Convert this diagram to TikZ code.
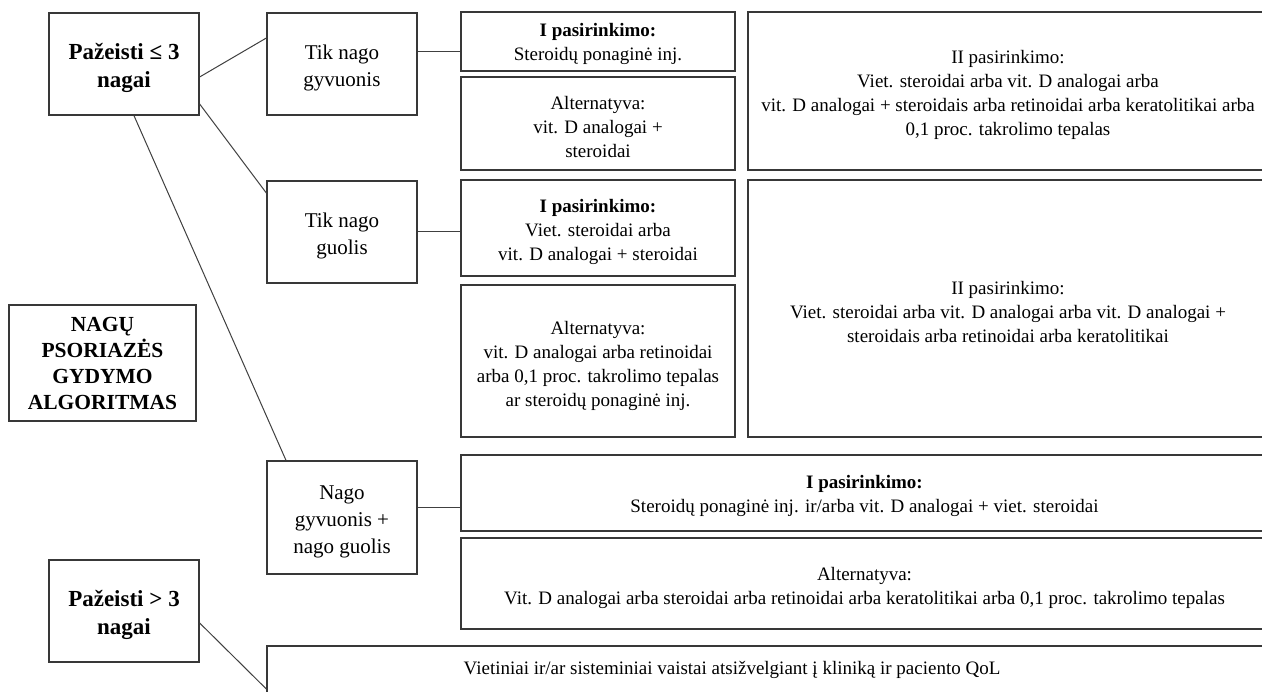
\documentclass[tikz,border=0pt]{standalone}
\usepackage{fontspec}
\setmainfont{Liberation Serif}
\begin{document}
\begin{tikzpicture}[x=1pt,y=-1pt,
  box/.style={draw=black!78, line width=1.3pt, fill=white, inner sep=0pt, anchor=center},
  txt/.style={inner sep=0pt, align=center, anchor=center},
  small/.style={txt, font=\fontsize{19}{24}\selectfont},
  lab/.style={txt, font=\fontsize{21}{27}\selectfont},
  big/.style={txt, font=\fontsize{23}{28}\selectfont\bfseries},
  ttl/.style={txt, font=\fontsize{21.5}{26}\selectfont\bfseries},
  conn/.style={draw=black!75, line width=1pt}]
\useasboundingbox (0,0) rectangle (1262,692);
\clip (0,0) rectangle (1262,692);
\fill[white] (0,0) rectangle (1262,692);
% left column
\node[box,minimum width=150pt,minimum height=102pt] (p1) at (124,64) {};
\node[big] (p1t) at ([yshift=-4pt]p1.center) {Pažeisti ≤ 3\\nagai};
\node[box,minimum width=187pt,minimum height=116pt] (title) at (102.5,363) {};
\node[ttl] (titlet) at (title.center) {NAGŲ\\PSORIAZĖS\\GYDYMO\\ALGORITMAS};
\node[box,minimum width=150pt,minimum height=102pt] (p2) at (124,611) {};
\node[big] (p2t) at ([yshift=-4pt]p2.center) {Pažeisti > 3\\nagai};
% second column
\node[box,minimum width=150pt,minimum height=102pt] (tng) at (342,64) {};
\node[lab] (tngt) at ([yshift=-4pt]tng.center) {Tik nago\\gyvuonis};
\node[box,minimum width=150pt,minimum height=102pt] (tng2) at (342,232) {};
\node[lab] (tng2t) at ([yshift=-4pt]tng2.center) {Tik nago\\guolis};
\node[box,minimum width=150pt,minimum height=113pt] (ng) at (342,517.5) {};
\node[lab] (ngt) at ([yshift=-4pt]ng.center) {Nago\\gyvuonis +\\nago guolis};
% options
\node[box,minimum width=274pt,minimum height=59pt] (i1) at (598,41.5) {};
\node[small] (i1t) at ([yshift=-2pt]i1.center) {\textbf{I pasirinkimo:}\\Steroidų ponaginė inj.};
\node[box,minimum width=274pt,minimum height=93pt] (a1) at (598,123.5) {};
\node[small] (a1t) at ([yshift=-4pt]a1.center) {Alternatyva:\\vit. D analogai +\\steroidai};
\node[box,minimum width=520pt,minimum height=158pt] (ii1) at (1008,91) {};
\node[small] (ii1t) at ([yshift=-4pt]ii1.center) {II pasirinkimo:\\Viet. steroidai arba vit. D analogai arba\\vit. D analogai + steroidais arba retinoidai arba keratolitikai arba\\0,1 proc. takrolimo tepalas};
\node[box,minimum width=274pt,minimum height=96pt] (i2) at (598,228) {};
\node[small] (i2t) at ([yshift=-4pt]i2.center) {\textbf{I pasirinkimo:}\\Viet. steroidai arba\\vit. D analogai + steroidai};
\node[box,minimum width=274pt,minimum height=152pt] (a2) at (598,361) {};
\node[small] (a2t) at ([yshift=-5pt]a2.center) {Alternatyva:\\vit. D analogai arba retinoidai\\arba 0,1 proc. takrolimo tepalas\\ar steroidų ponaginė inj.};
\node[box,minimum width=520pt,minimum height=257pt] (ii2) at (1008,308.5) {};
\node[small] (ii2t) at ([yshift=-4pt]ii2.center) {II pasirinkimo:\\Viet. steroidai arba vit. D analogai arba vit. D analogai +\\steroidais arba retinoidai arba keratolitikai};
\node[box,minimum width=807pt,minimum height=76pt] (i3) at (864.5,493) {};
\node[small] (i3t) at ([yshift=-3pt]i3.center) {\textbf{I pasirinkimo:}\\Steroidų ponaginė inj. ir/arba vit. D analogai + viet. steroidai};
\node[box,minimum width=807pt,minimum height=91pt] (a3) at (864.5,583.5) {};
\node[small] (a3t) at ([yshift=-4pt]a3.center) {Alternatyva:\\Vit. D analogai arba steroidai arba retinoidai arba keratolitikai arba 0,1 proc. takrolimo tepalas};
\node[box,minimum width=1001pt,minimum height=74pt] (bot) at (767.5,683) {};
\node[small] (bott) at (732,670) {Vietiniai ir/ar sisteminiai vaistai atsižvelgiant į kliniką ir paciento QoL};
% connectors
\draw[conn] ([yshift=-13pt]p1.east) -- ([yshift=26pt]tng.west);
\draw[conn] ([yshift=-40pt]p1.east) -- ([yshift=39pt]tng2.west);
\draw[conn] ([xshift=10pt]p1.south) -- ([xshift=-56pt]ng.north);
\draw[conn] ([yshift=12pt]tng.east) -- ([yshift=12pt]tng.east -| i1.west);
\draw[conn] (tng2.east) -- (tng2.east -| i2.west);
\draw[conn] ([yshift=10pt]ng.east) -- ([yshift=10pt]ng.east -| i3.west);
\draw[conn] ([yshift=-12pt]p2.east) -- ([yshift=-6pt]bot.west);
\end{tikzpicture}
\end{document}
